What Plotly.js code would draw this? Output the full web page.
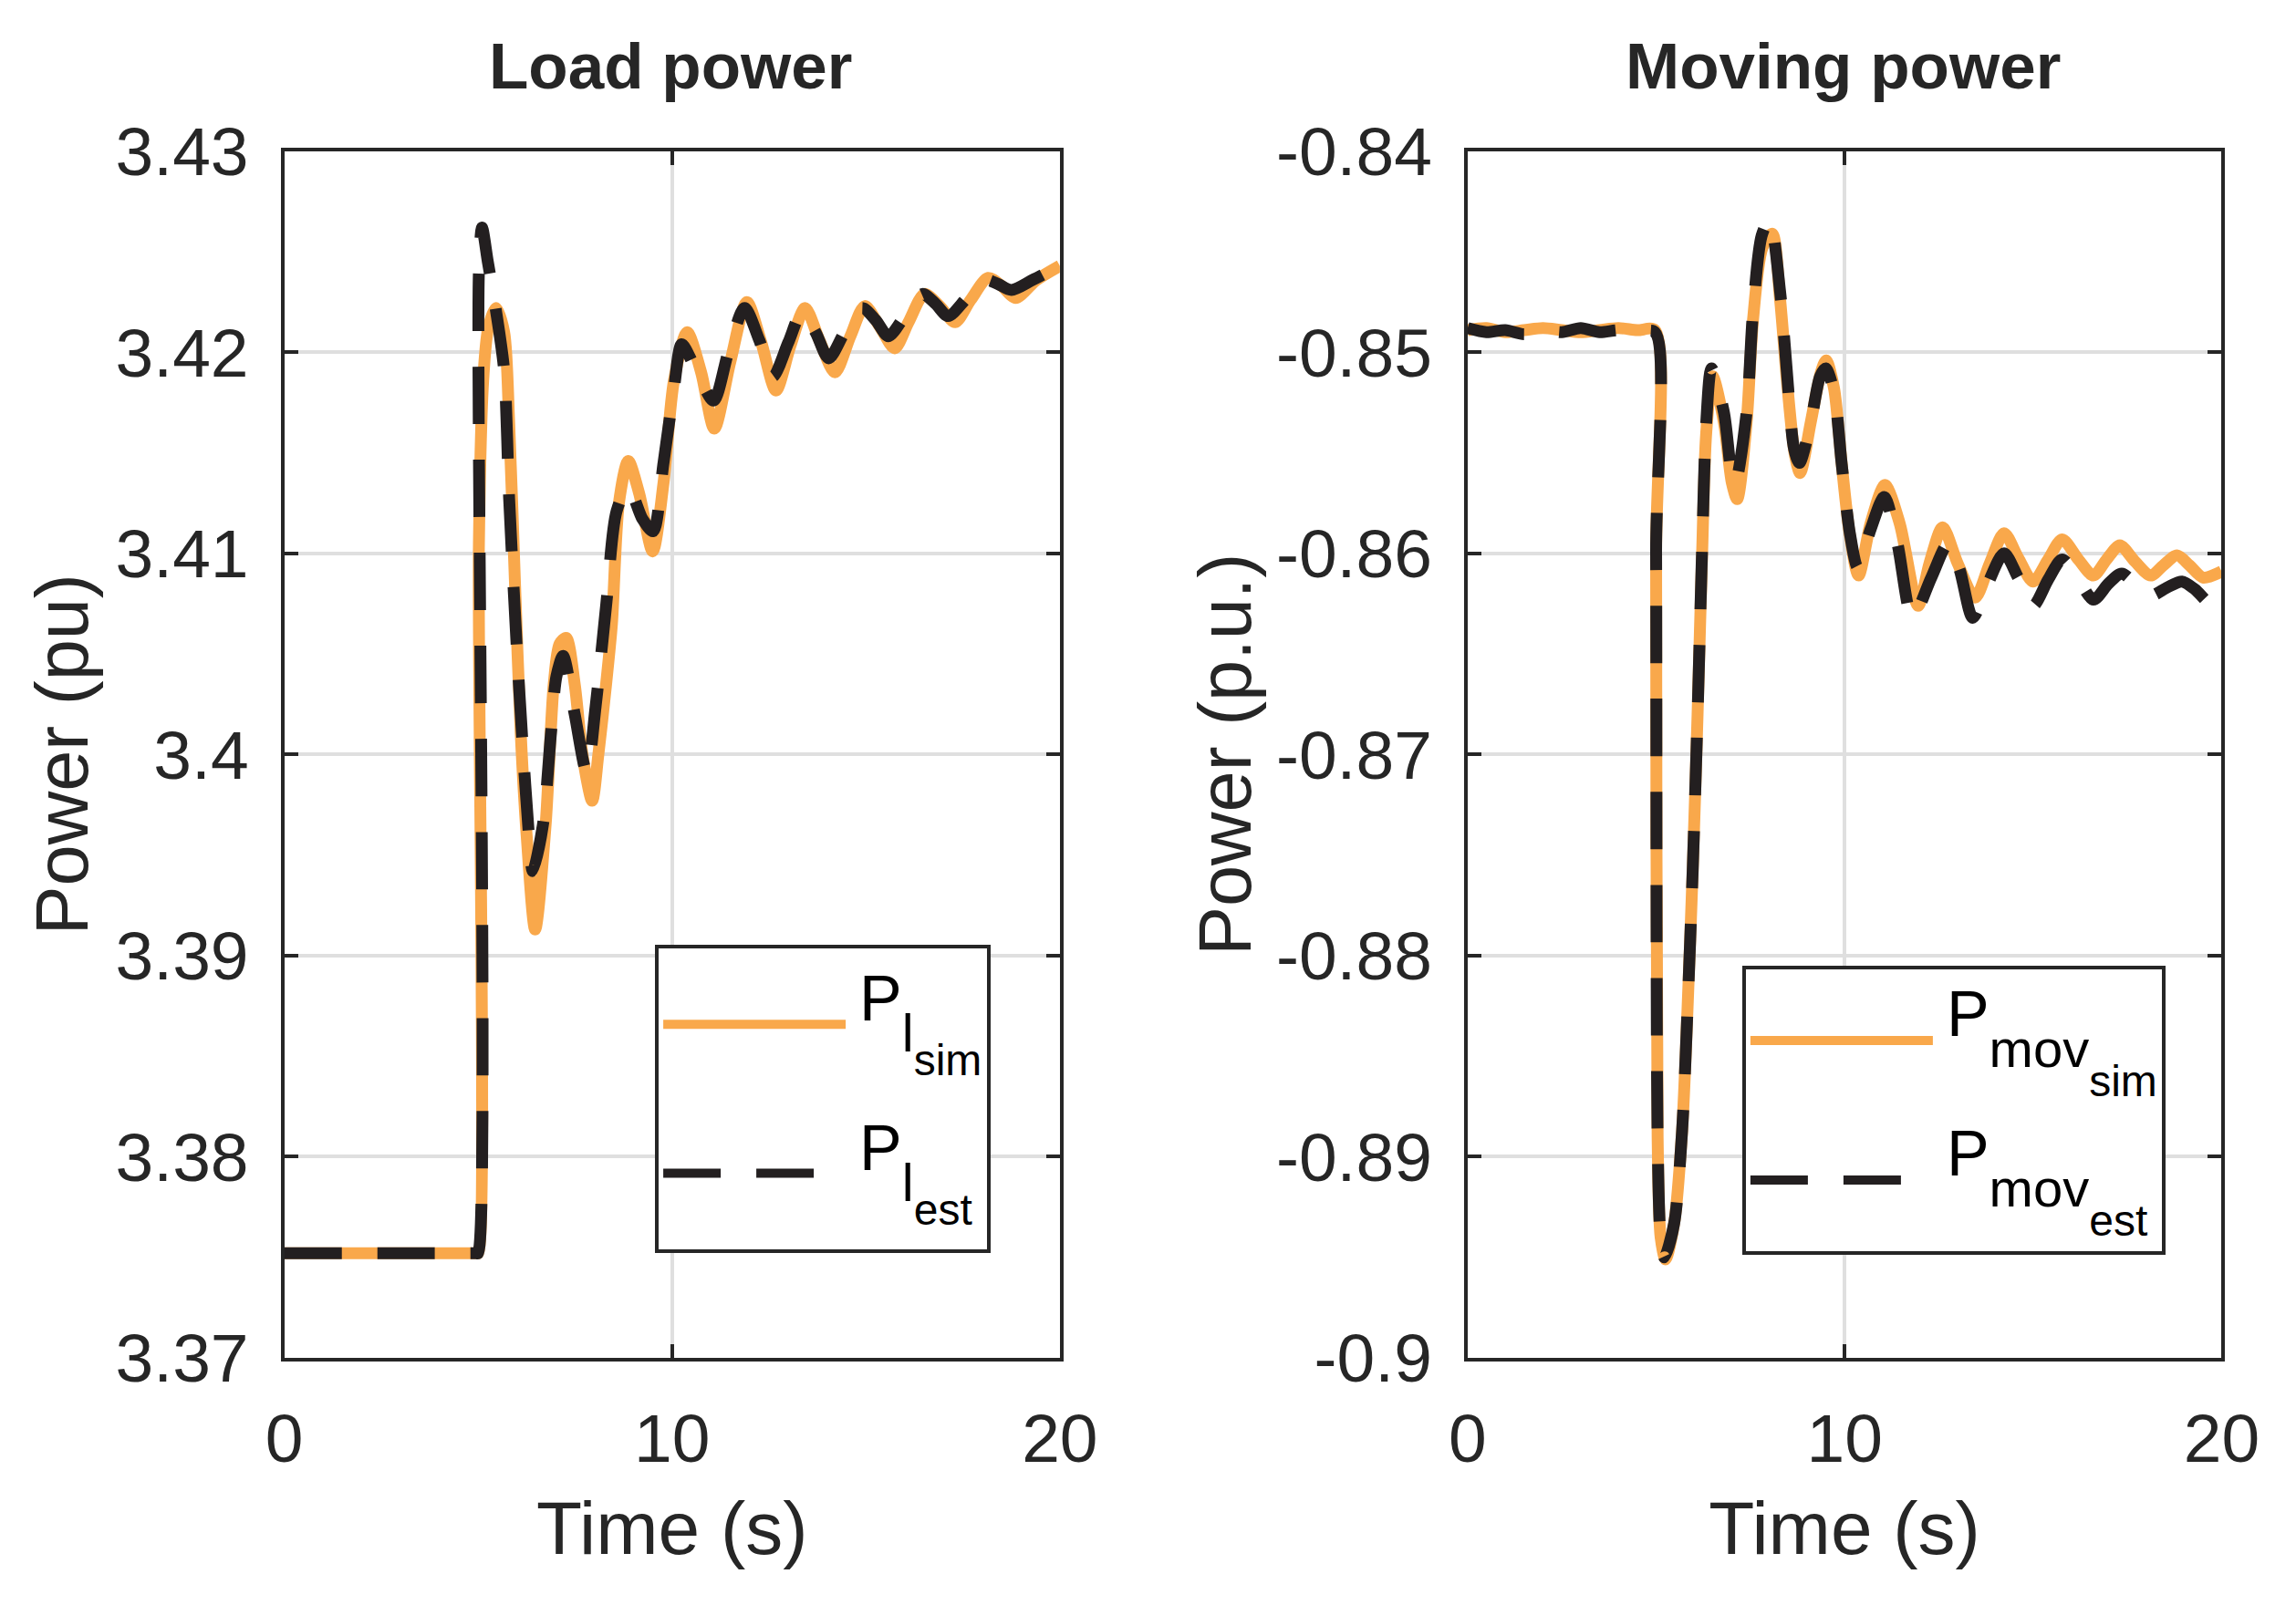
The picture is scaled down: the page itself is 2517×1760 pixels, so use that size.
<!DOCTYPE html>
<html>
<head>
<meta charset="utf-8">
<script src="https://cdn.plot.ly/plotly-3.0.1.min.js"></script>
<style>html,body{margin:0;padding:0;background:#fff}#chart{width:2517px;height:1760px}</style>
</head>
<body>
<div id="chart"></div>
<script>
// ---- Load power ----
const tLoadSim = [0, 4.95, 5.0, 5.02, 5.13, 5.26, 5.46, 5.67, 5.8, 5.95, 6.1, 6.25, 6.47, 6.74, 6.95, 7.1, 7.27, 7.49, 7.69, 7.94, 8.1, 8.3, 8.45, 8.63, 8.87, 9.15, 9.5, 9.78, 10.05, 10.39, 10.75, 11.09, 11.5, 11.93, 12.3, 12.68, 13.05, 13.43, 13.8, 14.2, 14.6, 14.97, 15.35, 15.74, 16.1, 16.51, 16.9, 17.3, 17.7, 18.15, 18.5, 18.86, 19.4, 20];
const vLoadSim = [3.3752, 3.3752, 3.3752, 3.4105, 3.4186, 3.4212, 3.4222, 3.4210, 3.4165, 3.4085, 3.4010, 3.3960, 3.3913, 3.3965, 3.4035, 3.4055, 3.4058, 3.4035, 3.4000, 3.3977, 3.4000, 3.4035, 3.4065, 3.4125, 3.4146, 3.4130, 3.4101, 3.4135, 3.4186, 3.4210, 3.4190, 3.4162, 3.4195, 3.4225, 3.4205, 3.4181, 3.4203, 3.4222, 3.4206, 3.4190, 3.4208, 3.4223, 3.4213, 3.4202, 3.4215, 3.4229, 3.4223, 3.4215, 3.4226, 3.4237, 3.4233, 3.4227, 3.4236, 3.4243];
const tLoadEst = [0, 4.95, 5.0, 5.02, 5.1, 5.25, 5.45, 5.67, 5.8, 6.0, 6.14, 6.31, 6.41, 6.67, 6.88, 7.02, 7.19, 7.49, 7.8, 8.03, 8.3, 8.57, 8.87, 9.24, 9.51, 9.78, 10.05, 10.25, 10.6, 11.07, 11.45, 11.87, 12.25, 12.6, 13.0, 13.35, 13.7, 14.04, 14.45, 14.9, 15.25, 15.58, 16.0, 16.46, 16.8, 17.12, 17.6, 18.08, 18.4, 18.75, 19.3, 20];
const vLoadEst = [3.3752, 3.3752, 3.3752, 3.4240, 3.4262, 3.4245, 3.4222, 3.4191, 3.4127, 3.4052, 3.4007, 3.3960, 3.3942, 3.3965, 3.4011, 3.4039, 3.4049, 3.4020, 3.3991, 3.4024, 3.4074, 3.4121, 3.4133, 3.4117, 3.4111, 3.4145, 3.4182, 3.4204, 3.4192, 3.4176, 3.4200, 3.4222, 3.4206, 3.4188, 3.4205, 3.4220, 3.4210, 3.4197, 3.4210, 3.4222, 3.4216, 3.4208, 3.4218, 3.4229, 3.4224, 3.4218, 3.4227, 3.4236, 3.4234, 3.4231, 3.4236, 3.4243];

// ---- Moving power ----
const tMovSim = [0, 0.5, 1, 1.5, 2, 2.5, 3, 3.5, 4, 4.5, 4.97, 5.0, 5.04, 5.12, 5.25, 5.48, 5.69, 5.83, 5.97, 6.1, 6.22, 6.33, 6.5, 6.8, 7.01, 7.15, 7.4, 7.57, 7.82, 8.08, 8.29, 8.47, 8.68, 8.82, 9.1, 9.37, 9.51, 9.72, 9.92, 10.14, 10.37, 10.69, 11.07, 11.46, 11.95, 12.25, 12.6, 13.0, 13.46, 13.85, 14.23, 14.6, 15.0, 15.4, 15.77, 16.2, 16.6, 16.95, 17.3, 17.7, 18.12, 18.45, 18.82, 19.15, 19.51, 20];
const vMovSim = [-0.8489, -0.8488, -0.8490, -0.8489, -0.8488, -0.8489, -0.8490, -0.8489, -0.8488, -0.8489, -0.8489, -0.8600, -0.8890, -0.8940, -0.8951, -0.8933, -0.8887, -0.8828, -0.8758, -0.8680, -0.8600, -0.8540, -0.8512, -0.8535, -0.8565, -0.8573, -0.8535, -0.8484, -0.8448, -0.8441, -0.8474, -0.8514, -0.8551, -0.8560, -0.8535, -0.8510, -0.8504, -0.8518, -0.8555, -0.8591, -0.8611, -0.8585, -0.8566, -0.8585, -0.8626, -0.8605, -0.8587, -0.8605, -0.8622, -0.8605, -0.8590, -0.8602, -0.8614, -0.8603, -0.8593, -0.8603, -0.8611, -0.8603, -0.8596, -0.8604, -0.8611, -0.8606, -0.8601, -0.8606, -0.8612, -0.8609];
const tMovEst = [0, 0.5, 1, 1.5, 2, 2.5, 3, 3.5, 4, 4.5, 4.97, 5.0, 5.04, 5.12, 5.22, 5.48, 5.69, 5.83, 5.97, 6.1, 6.22, 6.33, 6.47, 6.8, 7.0, 7.1, 7.4, 7.57, 7.8, 8.01, 8.29, 8.47, 8.66, 8.8, 9.1, 9.35, 9.5, 9.72, 9.92, 10.14, 10.35, 10.69, 11.05, 11.4, 11.8, 12.3, 12.75, 13.05, 13.4, 13.8, 14.23, 14.6, 15.0, 15.4, 15.77, 16.2, 16.6, 17.0, 17.35, 17.75, 18.12, 18.55, 18.95, 19.3, 19.7, 20];
const vMovEst = [-0.8488, -0.8490, -0.8489, -0.8491, -0.8489, -0.8490, -0.8488, -0.8490, -0.8489, -0.8490, -0.8490, -0.8600, -0.8890, -0.8940, -0.8950, -0.8933, -0.8887, -0.8828, -0.8758, -0.8680, -0.8598, -0.8535, -0.8508, -0.8530, -0.8560, -0.8565, -0.8530, -0.8480, -0.8442, -0.8434, -0.8470, -0.8510, -0.8548, -0.8555, -0.8535, -0.8512, -0.8508, -0.8520, -0.8555, -0.8590, -0.8607, -0.8588, -0.8572, -0.8595, -0.8632, -0.8612, -0.8595, -0.8608, -0.8632, -0.8615, -0.8600, -0.8612, -0.8626, -0.8613, -0.8603, -0.8613, -0.8623, -0.8615, -0.8610, -0.8616, -0.8621, -0.8617, -0.8614, -0.8618, -0.8625, -0.8624];

const xTicks = [0, 10, 20];
const loadTicks = [3.37, 3.38, 3.39, 3.40, 3.41, 3.42, 3.43];
const loadTickText = ['3.37', '3.38', '3.39', '3.4', '3.41', '3.42', '3.43'];
const movTicks = [-0.90, -0.89, -0.88, -0.87, -0.86, -0.85, -0.84];
const movTickText = ['-0.9', '-0.89', '-0.88', '-0.87', '-0.86', '-0.85', '-0.84'];

const ORANGE = '#F9A84B';
const DARK = '#231F20';
const TXT = '#262626';
const FONT = 'Liberation Sans, Arial, Helvetica, sans-serif';
const LW = 13;
const DASH = '63px,39px';

// legend label: P with subscript and sub-subscript
function label(sub, subsub, up, s1, s2) {
  return '<span style="font-size:36px"> </span>' +
         '<span style="font-size:70px;baseline-shift:' + up + 'px">P</span>' +
         '<span style="font-size:58px;baseline-shift:' + (up - s1) + 'px">' + sub + '</span>' +
         '<span style="font-size:48px;baseline-shift:' + (up - s2) + 'px">' + subsub + '</span>';
}

const traces = [
  {x: tLoadSim, y: vLoadSim, xaxis: 'x', yaxis: 'y', mode: 'lines', name: label('l', 'sim', 50, 34, 60),
   line: {color: ORANGE, width: LW, shape: 'spline', smoothing: 0.8}, legend: 'legend', legendgroup: 'a'},
  {x: tLoadEst, y: vLoadEst, xaxis: 'x', yaxis: 'y', mode: 'lines', name: label('l', 'est', 50, 34, 60),
   line: {color: DARK, width: LW, dash: DASH, shape: 'spline', smoothing: 0.8}, legend: 'legend', legendgroup: 'b'},
  {x: tMovSim, y: vMovSim, xaxis: 'x2', yaxis: 'y2', mode: 'lines', name: label('mov', 'sim', 48, 34, 66),
   line: {color: ORANGE, width: LW, shape: 'spline', smoothing: 0.8}, legend: 'legend2', legendgroup: 'c'},
  {x: tMovEst, y: vMovEst, xaxis: 'x2', yaxis: 'y2', mode: 'lines', name: label('mov', 'est', 48, 34, 66),
   line: {color: DARK, width: LW, dash: DASH, shape: 'spline', smoothing: 0.8}, legend: 'legend2', legendgroup: 'd'}
];

function xax(domain, anchor) {
  return {domain: domain, anchor: anchor, range: [0, 20], tickvals: xTicks, ticktext: xTicks.map(String),
    showgrid: true, gridcolor: '#DFDFDF', gridwidth: 4, zeroline: false,
    showline: true, linecolor: TXT, linewidth: 4, mirror: 'ticks', ticks: 'inside', ticklen: 15, tickwidth: 4, tickcolor: TXT,
    tickfont: {family: FONT, size: 75, color: TXT}, ticklabelstandoff: 20,
    title: {text: 'Time (s)', font: {family: FONT, size: 82, color: TXT}, standoff: 30}};
}
function yax(domain, anchor, tv, tt, rng, title, so) {
  return {domain: domain, anchor: anchor, range: rng, tickvals: tv, ticktext: tt,
    showgrid: true, gridcolor: '#DFDFDF', gridwidth: 4, zeroline: false,
    showline: true, linecolor: TXT, linewidth: 4, mirror: 'ticks', ticks: 'inside', ticklen: 15, tickwidth: 4, tickcolor: TXT,
    tickfont: {family: FONT, size: 75, color: TXT}, ticklabelstandoff: 20,
    title: {text: title, font: {family: FONT, size: 81, color: TXT}, standoff: so}};
}

function leg(x, y, fs, gap) {
  return {x: x, y: y, xanchor: 'left', yanchor: 'top', bgcolor: '#fff', bordercolor: TXT, borderwidth: 4,
    font: {family: FONT, size: fs, color: '#000'}, itemwidth: 200, tracegroupgap: gap, itemclick: false};
}

const layout = {
  width: 2517, height: 1760,
  margin: {l: 0, r: 0, t: 0, b: 0},
  paper_bgcolor: '#fff', plot_bgcolor: '#fff',
  showlegend: true,
  xaxis: xax([0.1238, 0.4616], 'y'),
  yaxis: yax([0.1540, 0.9058], 'x', loadTicks, loadTickText, [3.37, 3.43], 'Power (pu)', 4),
  xaxis2: xax([0.6392, 0.9676], 'y2'),
  yaxis2: yax([0.1540, 0.9058], 'x2', movTicks, movTickText, [-0.90, -0.84], 'Power (p.u.)', 2),
  legend: leg(0.2853, 0.4114, 118, 7),
  legend2: leg(0.7588, 0.3983, 110, 7),
  annotations: [
    {text: '<b>Load power</b>', xref: 'paper', yref: 'paper', x: 0.2922, y: 0.959, xanchor: 'center', yanchor: 'middle',
     showarrow: false, font: {family: FONT, size: 71, color: TXT}},
    {text: '<b>Moving power</b>', xref: 'paper', yref: 'paper', x: 0.8026, y: 0.959, xanchor: 'center', yanchor: 'middle',
     showarrow: false, font: {family: FONT, size: 71, color: TXT}}
  ]
};

Plotly.newPlot('chart', traces, layout, {staticPlot: true, displayModeBar: false});
</script>
</body>
</html>
